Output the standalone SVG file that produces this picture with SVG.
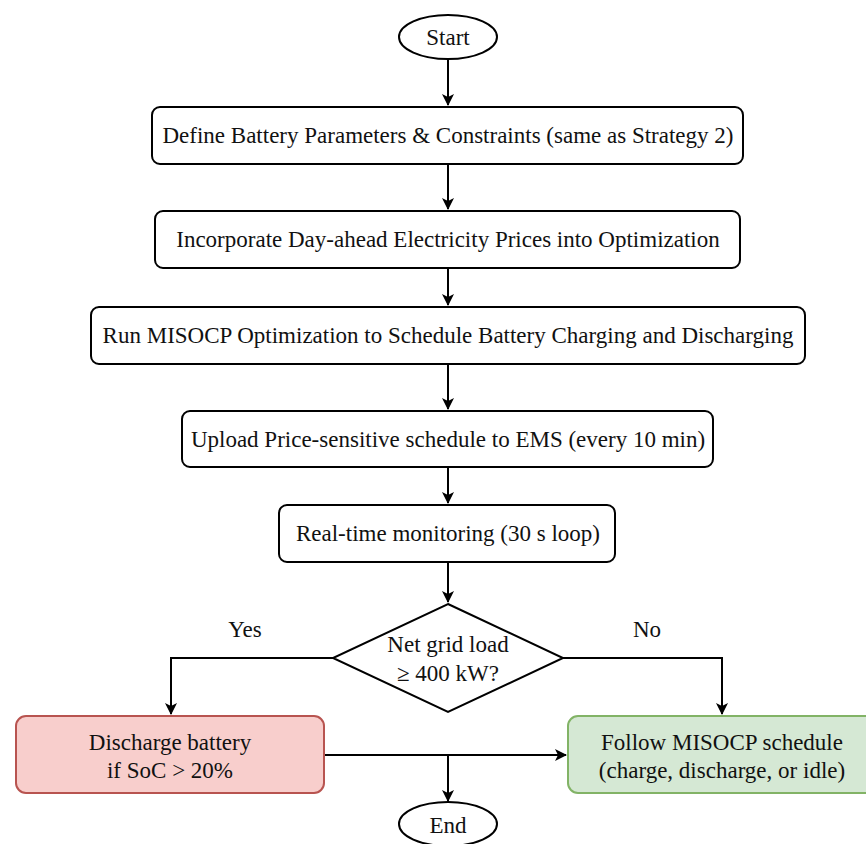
<svg xmlns="http://www.w3.org/2000/svg" width="866" height="844" viewBox="0 0 866 844">
<style>
.n{fill:#fff;stroke:#000;stroke-width:2}
.c{fill:none;stroke:#000;stroke-width:2}
</style>
<defs>
<marker id="a" viewBox="0 0 12 12" refX="11" refY="6" markerWidth="12" markerHeight="12" markerUnits="userSpaceOnUse" orient="auto">
<path d="M0,0 L12,6 L0,12 L3,6 Z" fill="#000"/>
</marker>
</defs>
<rect width="866" height="844" fill="#fff"/>
<g id="connectors">
<path class="c" d="M448,59 V105" marker-end="url(#a)"/>
<path class="c" d="M448,164 V209" marker-end="url(#a)"/>
<path class="c" d="M448,268 V305" marker-end="url(#a)"/>
<path class="c" d="M448,364 V409" marker-end="url(#a)"/>
<path class="c" d="M448,467 V503" marker-end="url(#a)"/>
<path class="c" d="M448,562 V602" marker-end="url(#a)"/>
<path class="c" d="M333,658 H171 V714" marker-end="url(#a)"/>
<path class="c" d="M563,658 H722 V714" marker-end="url(#a)"/>
<path class="c" d="M324,755 H566" marker-end="url(#a)"/>
<path class="c" d="M448,755 V801" marker-end="url(#a)"/>
</g>
<g font-family="'Liberation Serif', 'Times New Roman', serif" font-size="23" fill="#111" text-anchor="middle">
<g id="label-yes"><text x="245" y="637">Yes</text></g>
<g id="label-no"><text x="647" y="637">No</text></g>
<g id="start"><ellipse class="n" cx="448" cy="37" rx="49" ry="22"/><text x="448" y="45">Start</text></g>
<g id="define"><rect class="n" x="152" y="107" width="591" height="57" rx="8"/><text x="448" y="143">Define Battery Parameters &amp; Constraints (same as Strategy 2)</text></g>
<g id="incorporate"><rect class="n" x="155" y="211" width="585" height="57" rx="8"/><text x="448" y="247">Incorporate Day-ahead Electricity Prices into Optimization</text></g>
<g id="run"><rect class="n" x="91" y="307" width="714" height="57" rx="8"/><text x="448" y="343">Run MISOCP Optimization to Schedule Battery Charging and Discharging</text></g>
<g id="upload"><rect class="n" x="182" y="411" width="531" height="56" rx="8"/><text x="448" y="447">Upload Price-sensitive schedule to EMS (every 10 min)</text></g>
<g id="monitor"><rect class="n" x="279" y="505" width="336" height="57" rx="8"/><text x="448" y="541">Real-time monitoring (30 s loop)</text></g>
<g id="decision"><path class="n" d="M448,604 L563,658 L448,712 L333,658 Z"/><text x="448" y="652">Net grid load</text><text x="448" y="681">≥ 400 kW?</text></g>
<g id="discharge"><rect x="16" y="716" width="308" height="77" rx="10" fill="#f8cecc" stroke="#b85450" stroke-width="2"/><text x="170" y="750">Discharge battery</text><text x="170" y="778">if SoC &gt; 20%</text></g>
<g id="follow"><rect x="568" y="716" width="310" height="77" rx="10" fill="#d5e8d4" stroke="#82b366" stroke-width="2"/><text x="722" y="750">Follow MISOCP schedule</text><text x="722" y="778">(charge, discharge, or idle)</text></g>
<g id="end"><ellipse class="n" cx="448" cy="824" rx="49" ry="22"/><text x="448" y="833">End</text></g>
</g>
</svg>
